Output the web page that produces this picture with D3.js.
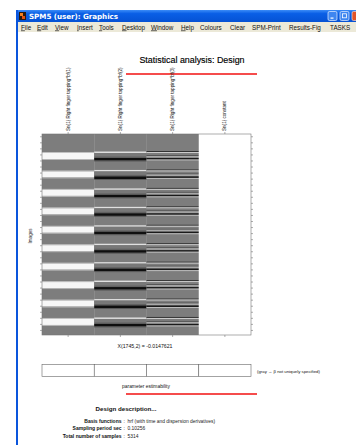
<!DOCTYPE html>
<html>
<head>
<meta charset="utf-8">
<script src="https://cdn.jsdelivr.net/npm/d3@7"></script>
<style>
  html, body { margin: 0; padding: 0; background: #fff; }
  svg { display: block; font-family: "Liberation Sans", Arial, sans-serif; }
</style>
</head>
<body>
<svg id="fig" width="356" height="445"></svg>
<script>
// ---- design ----------------------------------------------------------
const TR = 0.10256;                 // sampling period (s)
const nSamples = 5314;              // rows of the design matrix
const columnNames = [
  "Sn(1) Right finger tapping*bf(1)",
  "Sn(1) Right finger tapping*bf(2)",
  "Sn(1) Right finger tapping*bf(3)",
  "Sn(1) constant"
];
const blockOnsets = [45, 95, 145, 195, 245, 295, 345, 395, 445, 495]; // s
// grey level of each regressor around a block: [from s, to s, level 0..1]
const bf1Profile = [[3.8, 6.5, 0.76], [6.5, 22.8, 0.97], [22.8, 25.5, 0.72]];
const bf2Profile = [[2.5, 6.5, 0.88], [6.5, 16, 0.47], [16, 20, 0.38], [20, 27, 0.06], [27, 29.5, 0.34]];
const bf3Profile = [[1.1, 3.8, 0.2], [3.8, 6.5, 0.8], [11.9, 14.6, 0.33], [14.6, 18.7, 0.66], [20, 24.1, 0.1], [24.1, 26.8, 0.74]];
const restLevels = [0.49, 0.49, 0.49, 1.0];
const columnProfiles = [bf1Profile, bf2Profile, bf3Profile, []];
const estimable = [true, true, true, true];

const menuItems = ["File", "Edit", "View", "Insert", "Tools", "Desktop", "Window", "Help",
                   "Colours", "Clear", "SPM-Print", "Results-Fig", "TASKS"];
const menuX = [21, 37, 55, 77, 99, 122, 151, 181, 200, 230, 252, 289, 330];
const descLabels = ["Basis functions", "Sampling period sec", "Total number of samples"];
const descValues = ["hrf (with time and dispersion derivatives)", "0.10256", "5314"];

// ---- drawing ---------------------------------------------------------
const svg = d3.select("#fig");
const grey = d3.scaleLinear().domain([0, 1]).range(["#000000", "#ffffff"]);

// window chrome
const defs = svg.append("defs");
const tg = defs.append("linearGradient").attr("id", "titlebar").attr("x1", 0).attr("y1", 0).attr("x2", 0).attr("y2", 1);
tg.append("stop").attr("offset", "0%").attr("stop-color", "#3b8cf7");
tg.append("stop").attr("offset", "30%").attr("stop-color", "#0a5fe6");
tg.append("stop").attr("offset", "100%").attr("stop-color", "#0652d4");

svg.append("rect").attr("x", 16).attr("y", 10).attr("width", 340).attr("height", 12).attr("fill", "url(#titlebar)");
svg.append("rect").attr("x", 16).attr("y", 10).attr("width", 2).attr("height", 435).attr("fill", "#0a55dc");
// icon
svg.append("rect").attr("x", 19).attr("y", 12).attr("width", 7).attr("height", 8).attr("fill", "#2b1a10");
svg.append("rect").attr("x", 20).attr("y", 13).attr("width", 3).attr("height", 3).attr("fill", "#f08020");
svg.append("rect").attr("x", 22).attr("y", 16).attr("width", 3).attr("height", 3).attr("fill", "#e05010");
svg.append("text").attr("x", 29).attr("y", 18.5).attr("fill", "#fff").attr("font-size", 7.2)
  .attr("font-weight", "bold").attr("font-family", "'DejaVu Sans', sans-serif").attr("textLength", 89)
  .text("SPM5 (user): Graphics");
// caption buttons
[[328, "#3f86f0"], [340, "#3f86f0"]].forEach(([bx, c]) => {
  svg.append("rect").attr("x", bx).attr("y", 11.5).attr("width", 9).attr("height", 9).attr("rx", 1.5)
    .attr("fill", c).attr("stroke", "#e8f0ff").attr("stroke-width", 0.7);
});
svg.append("rect").attr("x", 330.5).attr("y", 17.5).attr("width", 3).attr("height", 1.2).attr("fill", "#fff");
svg.append("rect").attr("x", 342.5).attr("y", 13.8).attr("width", 4).attr("height", 4).attr("fill", "none").attr("stroke", "#fff").attr("stroke-width", 0.8);
svg.append("rect").attr("x", 352).attr("y", 11.5).attr("width", 9).attr("height", 9).attr("rx", 1.5)
  .attr("fill", "#e0542a").attr("stroke", "#f6d6c8").attr("stroke-width", 0.7);

// menu bar
svg.append("rect").attr("x", 18).attr("y", 22).attr("width", 338).attr("height", 10).attr("fill", "#ece9d8");
const menu = svg.append("g").attr("font-size", 6.3).attr("fill", "#111");
menuItems.forEach((m, i) => {
  const t = menu.append("text").attr("x", menuX[i]).attr("y", 29.5);
  if (i < 8) {
    t.append("tspan").attr("text-decoration", "underline").text(m[0]);
    t.append("tspan").text(m.slice(1));
  } else {
    t.text(m);
  }
});

// title
svg.append("text").attr("x", 192).attr("y", 63).attr("text-anchor", "middle")
  .attr("font-size", 8.9).attr("fill", "#000").attr("stroke", "#000").attr("stroke-width", 0.15)
  .text("Statistical analysis: Design");
svg.append("line").attr("x1", 126).attr("x2", 257).attr("y1", 74).attr("y2", 74)
  .attr("stroke", "#f21010").attr("stroke-width", 1.3);

// design matrix
const mx = { left: 42, right: 251, top: 134, bottom: 335 };
const x = d3.scaleBand().domain(columnNames).range([mx.left, mx.right]);
const y = d3.scaleLinear().domain([0, nSamples]).range([mx.top, mx.bottom]);
const sec = t => y(t / TR);

const dm = svg.append("g");
columnNames.forEach((name, ci) => {
  dm.append("rect").attr("x", x(name)).attr("y", y(0)).attr("width", x.bandwidth() + 0.3)
    .attr("height", y(nSamples) - y(0)).attr("fill", grey(restLevels[ci]));
  blockOnsets.forEach(on => {
    columnProfiles[ci].forEach(([a, b, lev]) => {
      dm.append("rect").attr("x", x(name)).attr("width", x.bandwidth() + 0.3)
        .attr("y", sec(on + a)).attr("height", sec(on + b) - sec(on + a))
        .attr("fill", grey(lev));
    });
  });
});
// matrix frame
svg.append("rect").attr("x", mx.left).attr("y", mx.top).attr("width", mx.right - mx.left)
  .attr("height", mx.bottom - mx.top).attr("fill", "none").attr("stroke", "#777").attr("stroke-width", 0.6);

// row ticks on both sides
const rowTicks = d3.range(60, nSamples, 160);
const leftAxis = svg.append("g").attr("transform", `translate(${mx.left},0)`)
  .call(d3.axisLeft(y).tickValues(rowTicks).tickSize(2).tickFormat(""));
const rightAxis = svg.append("g").attr("transform", `translate(${mx.right},0)`)
  .call(d3.axisRight(y).tickValues(rowTicks).tickSize(2).tickFormat(""));
const topAxis = svg.append("g").attr("transform", `translate(0,${mx.top})`)
  .call(d3.axisTop(x).tickSize(2).tickFormat(""));
const botAxis = svg.append("g").attr("transform", `translate(0,${mx.bottom})`)
  .call(d3.axisBottom(x).tickSize(2).tickFormat(""));
[leftAxis, rightAxis, topAxis, botAxis].forEach(g => {
  g.select(".domain").remove();
  g.selectAll(".tick line").attr("stroke", "#777").attr("stroke-width", 0.6);
});

// column names (rotated)
columnNames.forEach(name => {
  svg.append("text")
    .attr("transform", `translate(${x(name) + x.bandwidth() / 2 + 1.6},131) rotate(-90)`)
    .attr("font-size", 4.6).attr("fill", "#111").text(name);
});
svg.append("text").attr("transform", "translate(31.5,236) rotate(-90)").attr("text-anchor", "middle")
  .attr("font-size", 4.6).attr("fill", "#111").text("Images");

svg.append("text").attr("x", 145).attr("y", 348).attr("text-anchor", "middle")
  .attr("font-size", 5.2).attr("fill", "#111").text("X(1745,2) = -0.0147621");

// parameter estimability
const eb = svg.append("g");
columnNames.forEach((name, i) => {
  eb.append("rect").attr("x", x(name)).attr("y", 364.5).attr("width", x.bandwidth()).attr("height", 12)
    .attr("fill", estimable[i] ? "#fff" : "#bbb").attr("stroke", "#666").attr("stroke-width", 0.6);
});
svg.append("text").attr("x", 257).attr("y", 373).attr("font-size", 4.3).attr("fill", "#111")
  .text("(gray \u2192 \u03b2 not uniquely specified)");
svg.append("text").attr("x", 146).attr("y", 388).attr("text-anchor", "middle")
  .attr("font-size", 4.9).attr("fill", "#111").text("parameter estimability");
svg.append("line").attr("x1", 126).attr("x2", 257).attr("y1", 394).attr("y2", 394)
  .attr("stroke", "#f21010").attr("stroke-width", 1.3);

// design description
svg.append("text").attr("x", 126).attr("y", 410.5).attr("text-anchor", "middle")
  .attr("font-size", 6.2).attr("font-weight", "bold").attr("fill", "#111").text("Design description...");
descLabels.forEach((lab, i) => {
  const yy = 422.8 + i * 7.6;
  svg.append("text").attr("x", 121.5).attr("y", yy).attr("text-anchor", "end")
    .attr("font-size", 5).attr("font-weight", "bold").attr("fill", "#111").text(lab);
  svg.append("text").attr("x", 123.5).attr("y", yy).attr("font-size", 5).attr("fill", "#111").text(":");
  svg.append("text").attr("x", 127.5).attr("y", yy).attr("font-size", 4.9).attr("fill", "#222").text(descValues[i]);
});
</script>
</body>
</html>
